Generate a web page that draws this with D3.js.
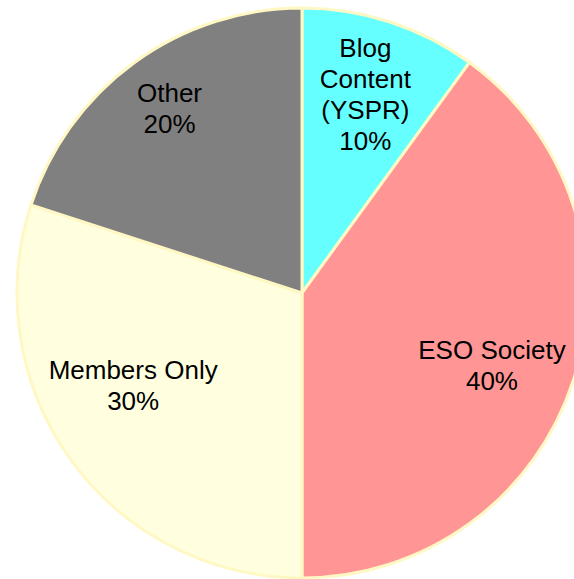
<!DOCTYPE html>
<html>
<head>
<meta charset="utf-8">
<script src="https://cdn.jsdelivr.net/npm/d3@7"></script>
<style>
  html, body { margin: 0; padding: 0; background: #fff; }
  svg { display: block; }
  .label { font-family: "Liberation Sans", Arial, sans-serif; font-size: 26px; fill: #000; }
</style>
</head>
<body>
<div id="chart"></div>
<script>
// chart values
const categories = ['Blog Content (YSPR)', 'ESO Society', 'Members Only', 'Other'];
const shares = [10, 40, 30, 20];
const labelLines = [
  ['Blog', 'Content', '(YSPR)', '10%'],
  ['ESO Society', '40%'],
  ['Members Only', '30%'],
  ['Other', '20%']
];
const colors = ['#66ffff', '#ff9595', '#ffffdf', '#808080'];

const width = 574, height = 579;
const cx = 302, cy = 293, radius = 285;
const lineHeight = 31;

// small hand nudges so labels sit where the original put them
const nudge = [[0, -4], [-5, 9], [-3, -28], [-12, -19]];

const svg = d3.select('#chart')
  .append('svg')
  .attr('width', width)
  .attr('height', height);

const g = svg.append('g').attr('transform', `translate(${cx},${cy})`);

const pie = d3.pie().sort(null).value(d => d.value);
const arcs = pie(categories.map((c, i) => ({ name: c, value: shares[i], i })));

const arc = d3.arc().innerRadius(0).outerRadius(radius);
const labelArc = d3.arc().innerRadius(205).outerRadius(205);

g.selectAll('path.slice')
  .data(arcs)
  .enter().append('path')
  .attr('class', 'slice')
  .attr('d', arc)
  .style('fill', d => colors[d.data.i])
  .style('stroke', '#fff8c4')
  .style('stroke-width', 3)
  .style('stroke-linejoin', 'round');

const labels = g.selectAll('text.label')
  .data(arcs)
  .enter().append('text')
  .attr('class', 'label')
  .attr('text-anchor', 'middle')
  .attr('transform', d => {
    const [x, y] = labelArc.centroid(d);
    const [nx, ny] = nudge[d.data.i];
    return `translate(${x + nx},${y + ny})`;
  });

labels.each(function(d) {
  const lines = labelLines[d.data.i];
  const start = -((lines.length - 1) * lineHeight) / 2;
  d3.select(this).selectAll('tspan')
    .data(lines)
    .enter().append('tspan')
    .attr('x', 0)
    .attr('y', (l, k) => start + k * lineHeight)
    .attr('dy', '0.35em')
    .text(l => l);
});
</script>
</body>
</html>
